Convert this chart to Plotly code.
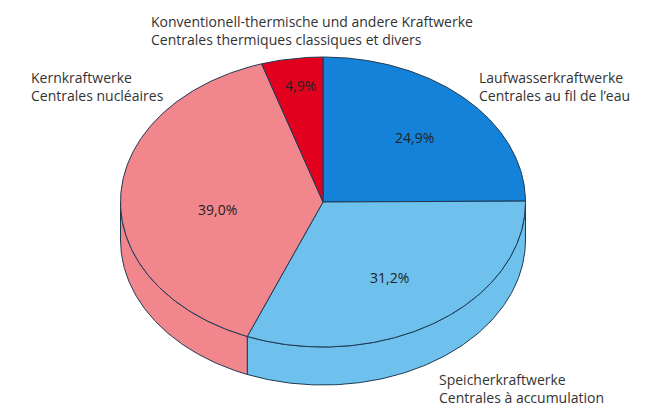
import numpy as np
import plotly.graph_objects as go

categories = ["Laufwasserkraftwerke<br>Centrales au fil de l’eau",
              "Speicherkraftwerke<br>Centrales à accumulation",
              "Kernkraftwerke<br>Centrales nucléaires",
              "Konventionell-thermische und andere Kraftwerke<br>Centrales thermiques classiques et divers"]
values = [24.9, 31.2, 39.0, 4.9]
pct_labels = ["24,9%", "31,2%", "39,0%", "4,9%"]
colors = ["#1482D8", "#6EC1EC", "#F1868C", "#E2001F"]
label_pos = [(477, 86), (437, 388), (29, 86), (149, 30)]
pct_pos = [(414, 137), (389, 277), (217, 209), (300, 85)]

CX, CY, RX, RY, DEPTH = 323, 202, 202.5, 145, 38
EDGE = "#1d3a55"

def pt(a):
    return CX + RX * np.sin(a), CY - RY * np.cos(a)

fig = go.Figure()
total = sum(values)
fracs = np.cumsum([0] + values) / total * 2 * np.pi
segs = list(zip(fracs[:-1], fracs[1:]))

for (a0, a1), col in zip(segs, colors):
    s, e = max(a0, np.pi / 2), min(a1, 3 * np.pi / 2)
    if e <= s:
        continue
    t = np.linspace(s, e, 120)
    x, y = pt(t)
    fig.add_trace(go.Scatter(
        x=np.r_[x, x[::-1], x[0]], y=np.r_[y, y[::-1] + DEPTH, y[0]],
        mode="lines", fill="toself", fillcolor=col,
        line=dict(color=EDGE, width=1), hoverinfo="skip"))

for (a0, a1), col in zip(segs, colors):
    t = np.linspace(a0, a1, 200)
    x, y = pt(t)
    fig.add_trace(go.Scatter(
        x=np.r_[CX, x, CX], y=np.r_[CY, y, CY],
        mode="lines", fill="toself", fillcolor=col,
        line=dict(color=EDGE, width=1), hoverinfo="skip"))

FONT = "Open Sans"
for txt, (x, y) in zip(categories, label_pos):
    fig.add_annotation(x=x, y=y, text=txt, showarrow=False, xanchor="left", yanchor="middle",
                       align="left", font=dict(family=FONT, size=14, color="#333333"))
for txt, (x, y) in zip(pct_labels, pct_pos):
    fig.add_annotation(x=x, y=y, text=txt, showarrow=False, xanchor="center", yanchor="middle",
                       font=dict(family=FONT, size=14, color="#222222"))

fig.update_layout(
    width=646, height=416, margin=dict(l=0, r=0, t=0, b=0),
    showlegend=False, paper_bgcolor="white", plot_bgcolor="white",
    xaxis=dict(range=[0, 646], visible=False, fixedrange=True),
    yaxis=dict(range=[416, 0], visible=False, fixedrange=True),
)
fig.write_html("out.html", config={"displayModeBar": False},
               post_script="document.body.style.margin='0';document.body.style.overflow='hidden';")
